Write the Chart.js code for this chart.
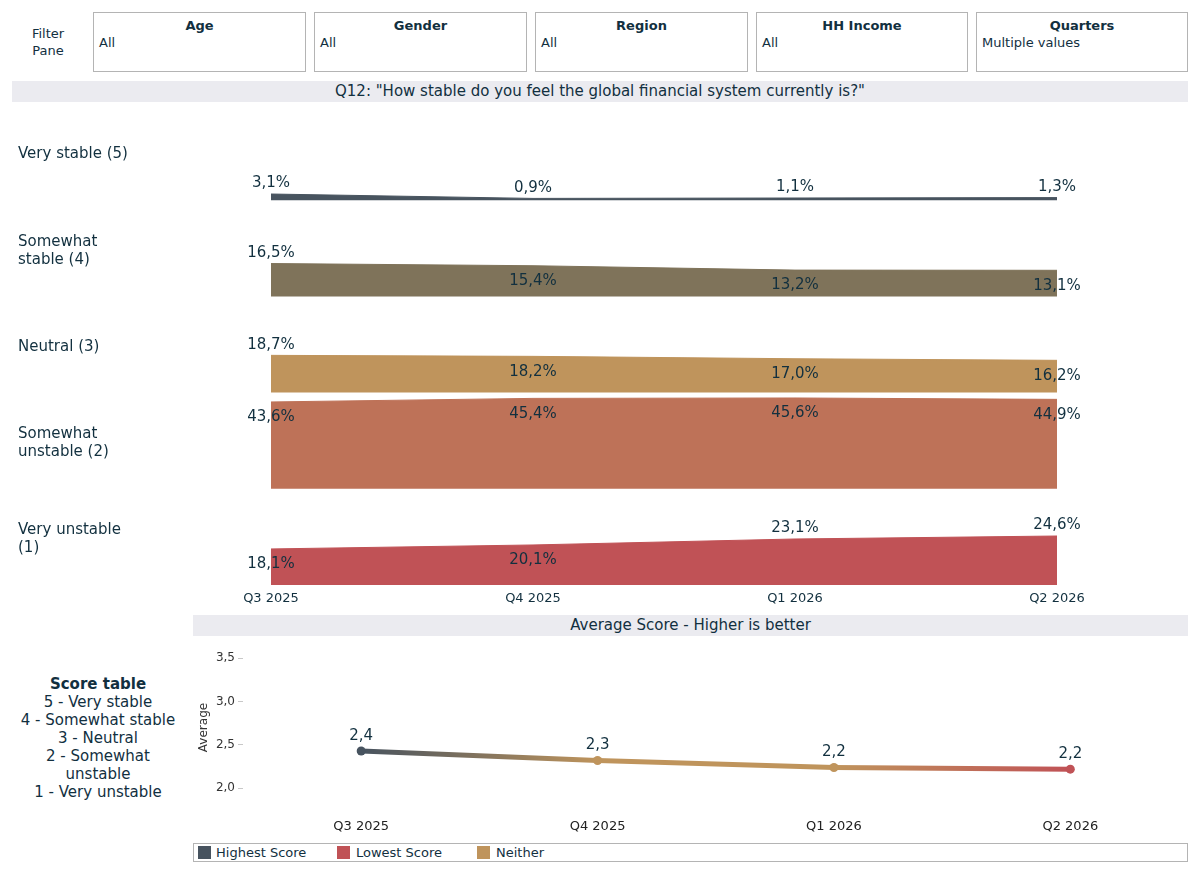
<!DOCTYPE html>
<html>
<head>
<meta charset="utf-8">
<script src="https://cdn.jsdelivr.net/npm/chart.js@4.4.0/dist/chart.umd.min.js"></script>
<style>
  body { margin: 0; width: 1199px; height: 872px; position: relative; overflow: hidden; background: #fff;
         font-family: "DejaVu Sans", sans-serif; color: #12303f; }
  .filter-label { position: absolute; left: 18px; top: 25px; width: 60px; text-align: center; font-size: 13px; line-height: 17px; }
  .filter { position: absolute; top: 12px; height: 60px; box-sizing: border-box; border: 1px solid #b4b4b4; font-size: 13px; line-height: 17px; padding: 4px 5px 0 5px; }
  .filter b { display: block; text-align: center; }
  .bar { position: absolute; background: #ebebf0; font-size: 15px; line-height: 21px; text-align: center; }
  .scores { position: absolute; left: 0; top: 675px; width: 196px; text-align: center; font-size: 15px; line-height: 18px; }
  .legend { position: absolute; left: 193px; top: 843px; width: 995px; height: 19px; box-sizing: border-box; border: 1px solid #b4b4b4; font-size: 13px; line-height: 17px; }
  .legend span { position: absolute; top: 0; }
  .legend i { position: absolute; top: 2px; width: 13px; height: 13px; }
  canvas { position: absolute; }
</style>
</head>
<body>
<div class="filter-label">Filter<br>Pane</div>
<div class="filter" style="left:93px;width:213px"><b>Age</b>All</div>
<div class="filter" style="left:314px;width:213px"><b>Gender</b>All</div>
<div class="filter" style="left:535px;width:213px"><b>Region</b>All</div>
<div class="filter" style="left:756px;width:212px"><b>HH Income</b>All</div>
<div class="filter" style="left:976px;width:212px"><b>Quarters</b>Multiple values</div>

<div class="bar" style="left:12px;top:81px;width:1176px;height:21px">Q12: "How stable do you feel the global financial system currently is?"</div>
<canvas id="rows" width="1199" height="512" style="left:0;top:100px"></canvas>

<div class="bar" style="left:193px;top:615px;width:995px;height:21px">Average Score - Higher is better</div>
<div class="scores"><b>Score table</b><br>5 - Very stable<br>4 - Somewhat stable<br>3 - Neutral<br>2 - Somewhat<br>unstable<br>1 - Very unstable</div>
<canvas id="avg" width="1000" height="200" style="left:193px;top:638px"></canvas>

<div class="legend">
  <i style="left:4px;background:#47535f"></i><span style="left:22px">Highest Score</span>
  <i style="left:143px;background:#c05256"></i><span style="left:162px">Lowest Score</span>
  <i style="left:283px;background:#bf945c"></i><span style="left:302px">Neither</span>
</div>

<script>
const quarters = ['Q3 2025', 'Q4 2025', 'Q1 2026', 'Q2 2026']
const answerLabels = [
    ['Very stable (5)'],
    ['Somewhat', 'stable (4)'],
    ['Neutral (3)'],
    ['Somewhat', 'unstable (2)'],
    ['Very unstable', '(1)']
]
const veryStable = [3.1, 0.9, 1.1, 1.3]
const somewhatStable = [16.5, 15.4, 13.2, 13.1]
const neutral = [18.7, 18.2, 17.0, 16.2]
const somewhatUnstable = [43.6, 45.4, 45.6, 44.9]
const veryUnstable = [18.1, 20.1, 23.1, 24.6]
const averageScore = [2.43, 2.32, 2.24, 2.22]
const scoreGroup = ['Highest', 'Neither', 'Neither', 'Lowest']

const textColor = '#12303f'
const rowColors = ['#48545f', '#7f735a', '#bf945c', '#be7258', '#c05256']
const groupColors = { Highest: '#47535f', Neither: '#bf945c', Lowest: '#c05256' }
// which value labels sit above the band edge (1) or just inside it (0)
const labelAbove = [[1, 1, 1, 1], [1, 0, 0, 0], [1, 0, 0, 0], [0, 0, 0, 0], [0, 0, 1, 1]]
const band = 48.3

const fmt = (v, d) => v.toFixed(d).replace('.', ',')

const rowLabels = {
    id: 'rowLabels',
    afterDatasetsDraw(chart) {
        const ctx = chart.ctx
        ctx.save()
        ctx.font = '15px "DejaVu Sans"'
        ctx.fillStyle = textColor
        ctx.textAlign = 'center'
        ctx.textBaseline = 'middle'
        chart.data.datasets.forEach((ds, di) => {
            chart.getDatasetMeta(di).data.forEach((pt, j) => {
                const dy = labelAbove[di][j] ? -10.5 : 15.5
                ctx.fillText(fmt(ds.raw[j], 1) + '%', pt.x, pt.y + dy)
            })
        })
        ctx.restore()
    }
}

const rows = [veryStable, somewhatStable, neutral, somewhatUnstable, veryUnstable]

new Chart(document.getElementById('rows'), {
    type: 'line',
    data: {
        labels: quarters,
        datasets: rows.map((vals, i) => {
            const base = (4 - i) * band
            return {
                data: vals.map(v => base + v),
                raw: vals,
                fill: { value: base },
                backgroundColor: rowColors[i],
                borderColor: rowColors[i],
                borderWidth: 1,
                pointRadius: 0,
                tension: 0
            }
        })
    },
    options: {
        responsive: false,
        animation: false,
        layout: { padding: { left: 18, right: 142, top: 4, bottom: 0 } },
        plugins: { legend: { display: false }, tooltip: { enabled: false } },
        scales: {
            x: {
                offset: false,
                grid: { display: false, drawTicks: false },
                border: { display: false },
                ticks: { color: textColor, font: { family: 'DejaVu Sans', size: 13 }, padding: 6, maxRotation: 0 },
                afterFit: s => { s.height = 27 }
            },
            y: {
                min: 0,
                max: 5 * band,
                grid: { display: false, drawTicks: false },
                border: { display: false },
                // bottom row first, so ticks run upwards like the scale
                afterBuildTicks: s => { s.ticks = answerLabels.map((_, i) => ({ value: i * band + band / 2 })) },
                ticks: {
                    autoSkip: false,
                    crossAlign: 'far',
                    labelOffset: 2.5,
                    color: textColor,
                    font: { family: 'DejaVu Sans', size: 15, lineHeight: 1.2 },
                    callback: (v, i) => answerLabels[4 - i]
                },
                afterFit: s => {
                    s.width = 253
                    s.paddingTop = 0
                    s.paddingBottom = 0
                }
            }
        }
    },
    plugins: [rowLabels]
})

const avgLabels = {
    id: 'avgLabels',
    afterDatasetsDraw(chart) {
        const ctx = chart.ctx
        ctx.save()
        ctx.font = '15px "DejaVu Sans"'
        ctx.fillStyle = textColor
        ctx.textAlign = 'center'
        ctx.textBaseline = 'middle'
        chart.getDatasetMeta(0).data.forEach((pt, j) => {
            ctx.fillText(fmt(averageScore[j], 1), pt.x, pt.y - 15)
        })
        ctx.restore()
    }
}

const pointColors = scoreGroup.map(g => groupColors[g])

new Chart(document.getElementById('avg'), {
    type: 'line',
    data: {
        labels: quarters,
        datasets: [{
            data: averageScore,
            borderWidth: 5,
            pointRadius: 4.5,
            pointBorderWidth: 0,
            pointBackgroundColor: pointColors,
            tension: 0,
            segment: {
                borderColor: c => {
                    const g = c.chart.ctx.createLinearGradient(c.p0.x, 0, c.p1.x, 0)
                    g.addColorStop(0, pointColors[c.p0DataIndex])
                    g.addColorStop(1, pointColors[c.p1DataIndex])
                    return g
                }
            }
        }]
    },
    options: {
        responsive: false,
        animation: false,
        layout: { padding: { left: 0, right: 0, top: 7, bottom: 0 } },
        plugins: { legend: { display: false }, tooltip: { enabled: false } },
        scales: {
            x: {
                offset: true,
                grid: { display: false, drawTicks: false },
                border: { display: false },
                ticks: { color: '#222', font: { family: 'DejaVu Sans', size: 13 }, padding: 9, maxRotation: 0 },
                afterFit: s => { s.height = 28 }
            },
            y: {
                min: 1.75,
                max: 3.65,
                afterBuildTicks: s => { s.ticks = [2, 2.5, 3, 3.5].map(v => ({ value: v })) },
                grid: { drawOnChartArea: false, tickLength: 5, color: '#c8c8c8' },
                border: { display: false },
                ticks: { color: '#333', font: { family: 'DejaVu Sans', size: 12 }, padding: 3, callback: v => fmt(v, 1) },
                title: { display: true, text: 'Average', color: '#333', font: { family: 'DejaVu Sans', size: 12 }, padding: { top: 4, bottom: 0 } },
                afterFit: s => {
                    s.width = 50
                    s.paddingTop = 0
                    s.paddingBottom = 0
                }
            }
        }
    },
    plugins: [avgLabels]
})
</script>
</body>
</html>
